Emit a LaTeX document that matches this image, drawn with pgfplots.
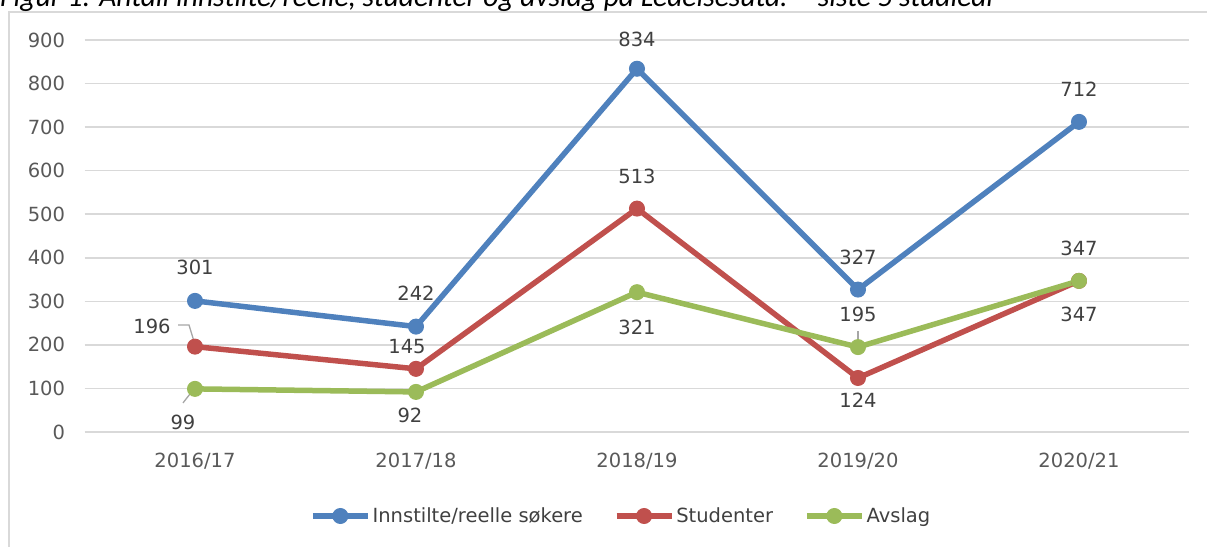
\documentclass[border=0pt]{standalone}
\usepackage{fontspec}
\setmainfont{DejaVu Sans}
\newfontfamily\titlefont{Carlito}
\usepackage{pgfplots}
\usepackage{pgfplotstable}
\pgfplotsset{compat=1.18}
\definecolor{cblue}{HTML}{4F81BD}
\definecolor{cred}{HTML}{C0504D}
\definecolor{cgreen}{HTML}{9BBB59}
\definecolor{gridc}{HTML}{D9D9D9}
\definecolor{tickc}{HTML}{595959}
\definecolor{labc}{HTML}{404040}
\definecolor{leadc}{HTML}{A6A6A6}

% x  y  dx dy (label offset in pt)
\pgfplotstableread{
x y dx dy
0 301 0 33
1 242 0 33
2 834 0 29
3 327 0 32
4 712 0 33
}\tblue
\pgfplotstableread{
x y dx dy
0 196 -43 20
1 145 -9 22
2 513 0 32
3 124 0 -22
4 347 0 -34
}\tred
\pgfplotstableread{
x y dx dy
0 99 -12 -34
1 92 -6 -23
2 321 0 -35
3 195 0 33
4 347 0 32
}\tgreen

\begin{document}
\begin{tikzpicture}
\useasboundingbox (0pt,0pt) rectangle (1207pt,546pt);
\clip (0pt,0pt) rectangle (1207pt,546pt);
\draw[color=gridc, line width=1.3pt] (9pt,-10pt) -- (9pt,534pt) -- (1230pt,534pt);
\node[anchor=base west, inner sep=0pt, font=\titlefont\itshape\fontsize{29.5}{29.5}\selectfont, text=black] at (0pt,539pt) {Figur 1: Antall innstilte/reelle, studenter og avslag på Ledelsesutd. – siste 5 studieår};
\begin{axis}[
  at={(195pt,114pt)}, anchor=origin,
  scale only axis, width=1105pt, height=392pt,
  xmin=-0.5, xmax=4.5, ymin=0, ymax=900,
  xtick={0,1,2,3,4},
  xticklabels={2016/17,2017/18,2018/19,2019/20,2020/21},
  ytick={0,100,...,900},
  /pgf/number format/assume math mode=true,
  axis line style={draw=none},
  major tick length=0pt,
  ymajorgrids, grid style={color=gridc, line width=1.5pt},
  tick label style={font=\fontsize{19.5}{19.5}\selectfont, text=tickc},
  yticklabel style={xshift=-16pt},
  xticklabel style={yshift=-17pt},
  clip=false,
  nodes near coords,
  point meta=explicit,
  visualization depends on={\thisrow{dx} \as \mydx},
  visualization depends on={\thisrow{dy} \as \mydy},
  nodes near coords style={anchor=center, xshift=\mydx pt, yshift=\mydy pt, font=\fontsize{19.5}{19.5}\selectfont, text=labc, inner sep=0pt},
  legend columns=3,
  legend style={at={(0.204,-0.2143)}, anchor=west, draw=none, fill=none, inner sep=0pt,
    font=\fontsize{19.5}{19.5}\selectfont, text=labc,
    /tikz/every even column/.append style={column sep=29pt},
    nodes={inner sep=2pt}},
  legend image code/.code={\draw[mark repeat=2,mark phase=2,#1] plot coordinates {(0pt,0pt) (27.5pt,0pt) (55pt,0pt)};},
  every axis plot/.append style={line width=5.5pt, mark=*, mark size=7.5pt, mark options={line width=1pt}},
]
\addplot[color=cblue] table[x=x, y=y, meta=y] {\tblue};
\addlegendentry{Innstilte/reelle søkere}
\addplot[color=cred] table[x=x, y=y, meta=y] {\tred};
\addlegendentry{Studenter}
\addplot[color=cgreen] table[x=x, y=y, meta=y] {\tgreen};
\addlegendentry{Avslag}
\draw[leadc, line width=1.3pt] ([shift={(-17pt,21.6pt)}]axis cs:0,196) -- ([shift={(-6pt,21.6pt)}]axis cs:0,196) -- ([shift={(0pt,2pt)}]axis cs:0,196);
\draw[leadc, line width=1.3pt] ([shift={(-12pt,-14pt)}]axis cs:0,99) -- ([shift={(-1pt,0pt)}]axis cs:0,99);
\draw[leadc, line width=1.3pt] ([shift={(0pt,16pt)}]axis cs:3,195) -- ([shift={(0pt,4pt)}]axis cs:3,195);
\end{axis}
\end{tikzpicture}
\end{document}
